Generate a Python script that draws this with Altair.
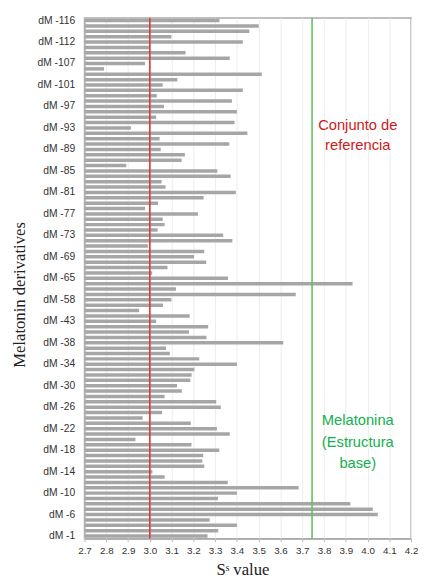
import altair as alt
import pandas as pd

labels = ["dM -116", "dM -112", "dM -107", "dM -101", "dM -97", "dM -93", "dM -89",
          "dM -85", "dM -81", "dM -77", "dM -73", "dM -69", "dM -65", "dM -58",
          "dM -43", "dM -38", "dM -34", "dM -30", "dM -26", "dM -22", "dM -18",
          "dM -14", "dM -10", "dM -6", "dM -1"]

ss_values = [3.320, 3.500, 3.457, 3.099, 3.427, 3.000, 3.164, 3.367, 2.978, 2.790,
             3.514, 3.126, 3.059, 3.427, 3.032, 3.377, 3.065, 3.400, 3.029, 3.389,
             2.913, 3.448, 3.045, 3.365, 3.050, 3.161, 3.146, 2.892, 3.310, 3.371,
             3.054, 3.072, 3.395, 3.247, 3.038, 2.978, 3.221, 3.059, 3.068, 3.036,
             3.337, 3.379, 2.991, 3.250, 3.203, 3.259, 3.081, 3.011, 3.359, 3.931,
             3.120, 3.670, 3.099, 3.060, 2.951, 3.183, 3.029, 3.268, 3.180, 3.260,
             3.613, 3.074, 3.092, 3.227, 3.400, 3.205, 3.192, 3.186, 3.125, 3.147,
             3.068, 3.305, 3.326, 3.056, 2.967, 3.188, 3.308, 3.367, 2.934, 3.191,
             3.319, 3.245, 3.241, 3.250, 3.012, 3.068, 3.358, 3.683, 3.400, 3.313,
             3.921, 4.024, 4.047, 3.275, 3.400, 3.314, 3.265]

x_ticks = [2.7, 2.8, 2.9, 3.0, 3.1, 3.2, 3.3, 3.4, 3.5, 3.6, 3.7, 3.8, 3.9, 4.0, 4.1, 4.2]

ref_values = [3.0, 3.745]
ref_colors = ["#d93a3a", "#62c262"]

ann_ref_text = ["Conjunto de", "referencia"]
ann_mel_text = ["Melatonina", "(Estructura", "base)"]
ann_x = [3.955]

# build category list: labelled compounds every 4th bar
cats = []
for i, lab in enumerate(labels):
    cats.append(lab)
    if i < len(labels) - 1:
        n = int(lab.split()[1])
        for k in range(1, 4):
            cats.append(f"dM {n + k}")

df = pd.DataFrame({"compound": cats, "ss": ss_values})
refs = pd.DataFrame({"ss": ref_values, "color": ref_colors})
ann = pd.DataFrame({"x": ann_x})

W, H = 333, 531
xscale = alt.Scale(domain=[2.7, 4.2], zero=False, nice=False, clamp=True)

bars = alt.Chart(df).mark_bar(color="#a6a6a6").encode(
    y=alt.Y("compound:N", sort=cats,
            scale=alt.Scale(paddingInner=0.35, paddingOuter=0.17),
            axis=alt.Axis(values=labels, title="Melatonin derivatives",
                          labelFont="Liberation Sans", labelFontSize=10.5,
                          labelColor="#333333", ticks=False, labelPadding=10,
                          labelOverlap=False,
                          titleFont="Liberation Serif", titleFontSize=17,
                          titleFontWeight="normal", titleColor="#222222",
                          titleY=282, titleX=-57, grid=False)),
    x=alt.X("ss:Q", scale=xscale,
            axis=alt.Axis(values=x_ticks, tickCount=len(x_ticks) + 4, format=".1f",
                          title="Sˢ value",
                          labelFont="Liberation Sans", labelFontSize=10,
                          labelColor="#333333", labelOverlap=False,
                          labelBound=False, labelFlush=False,
                          tickSize=3, tickColor="#bbbbbb", labelPadding=4,
                          titleFont="Liberation Serif", titleFontSize=17,
                          titleFontWeight="normal", titleColor="#222222",
                          titleBaseline="alphabetic", titleY=36, titleX=161,
                          grid=True, gridColor="#ededed")),
)

rules = alt.Chart(refs).mark_rule(strokeWidth=1.6).encode(
    x=alt.X("ss:Q", scale=xscale),
    color=alt.Color("color:N", scale=None),
)

t1 = alt.Chart(ann).mark_text(text=ann_ref_text, color="#cc1a1a", font="Liberation Sans",
                              fontSize=15, lineHeight=21, align="center",
                              baseline="middle").encode(
    x=alt.X("x:Q", scale=xscale), y=alt.value(109))

t2 = alt.Chart(ann).mark_text(text=ann_mel_text, color="#12b04e", font="Liberation Sans",
                              fontSize=15, lineHeight=22, align="center",
                              baseline="middle").encode(
    x=alt.X("x:Q", scale=xscale), y=alt.value(410))

chart = alt.layer(bars, rules, t1, t2).properties(
    width=W, height=H,
    autosize=alt.AutoSizeParams(type="none"),
    padding={"left": 78, "top": 4.5, "right": 7, "bottom": 38},
).configure_view(stroke="#aaaaaa", strokeWidth=1.5).configure_axis(
    domainColor="#aaaaaa", domainWidth=1.2
)

chart.save("out.html", embed_options={"renderer": "svg", "actions": False})
